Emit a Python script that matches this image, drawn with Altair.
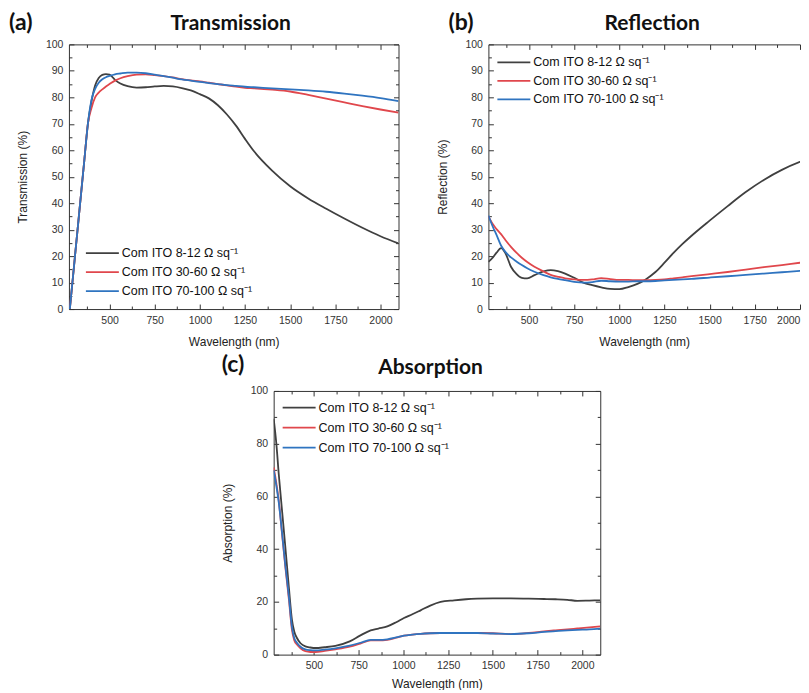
import altair as alt
import pandas as pd

SERIES = ["Com ITO 8-12 Ω sq⁻¹", "Com ITO 30-60 Ω sq⁻¹", "Com ITO 70-100 Ω sq⁻¹"]
COLORS = ["#404040", "#e0474c", "#2f74c0"]

X_DOMAIN = [275, 2100]
X_DOMAIN_B = [275, 2000.5]   # panel (b) is cut at the right edge of the picture
X_MAJOR = [500, 750, 1000, 1250, 1500, 1750, 2000]
X_MINOR = [375, 625, 875, 1125, 1375, 1625, 1875]
Y10_MAJOR = [0, 10, 20, 30, 40, 50, 60, 70, 80, 90, 100]
Y10_MINOR = [5, 15, 25, 35, 45, 55, 65, 75, 85, 95]
Y20_MAJOR = [0, 20, 40, 60, 80, 100]
Y20_MINOR = [10, 30, 50, 70, 90]

# (a) Transmission
T_NM = [280, 300, 330, 360, 380, 400, 420, 440, 460, 480,
        500, 530, 560, 600, 650, 700, 750, 800, 850, 900,
        950, 1000, 1050, 1100, 1150, 1200, 1250, 1300, 1400, 1500,
        1600, 1700, 1800, 1900, 2000, 2100]
T_BLACK = [0, 14, 35, 56, 70, 78.5, 84.5, 87.3, 88.5, 88.8,
           88.6, 86.6, 85.2, 84.2, 83.7, 83.8, 84.1, 84.3, 84.1, 83.5,
           82.6, 81.2, 79.6, 77.0, 73.5, 69.3, 64.3, 59.6, 52.3, 46.4,
           41.8, 37.9, 34.2, 30.7, 27.5, 24.8]
T_RED = [0, 14, 35, 56, 70, 76, 80, 81.8, 83, 84.1,
         85, 86.3, 87.2, 88, 88.6, 88.7, 88.4, 88, 87.5, 86.9,
         86.4, 86, 85.5, 85, 84.5, 84, 83.6, 83.4, 82.9, 82.2,
         80.9, 79.5, 78.1, 76.7, 75.4, 74.2]
T_BLUE = [0, 14, 35, 56, 70, 79, 83.2, 85.5, 86.8, 87.6,
          88.1, 88.7, 89, 89.3, 89.3, 89.1, 88.6, 88, 87.4, 86.8,
          86.3, 85.8, 85.4, 85, 84.6, 84.3, 84, 83.8, 83.4, 83,
          82.6, 82.1, 81.4, 80.6, 79.7, 78.6]

# (b) Reflection
R_NM = [275, 300, 320, 345, 370, 400, 430, 460, 490, 530,
        580, 620, 660, 700, 750, 800, 850, 900, 950, 1000,
        1050, 1100, 1150, 1200, 1250, 1300, 1350, 1400, 1500, 1600,
        1700, 1800, 1900, 2000, 2100]
R_BLACK = [17.8, 19.5, 21.3, 23, 21, 16, 13.3, 11.8, 11.6, 12.8,
           14.2, 14.7, 14.3, 13.4, 11.8, 10, 9, 8.2, 7.6, 7.5,
           8.3, 9.5, 11.4, 14, 17.5, 21.2, 24.6, 27.7, 33.4, 38.9,
           44.2, 48.8, 52.6, 55.6, 58]
R_RED = [35, 32, 30.2, 28.3, 26, 23.5, 21.3, 19.4, 17.8, 16,
         14.2, 12.9, 12.2, 11.6, 11.2, 11, 11.2, 11.7, 11.3, 11,
         11, 10.9, 10.9, 11, 11.2, 11.6, 12, 12.4, 13.2, 14,
         14.9, 15.8, 16.6, 17.5, 18.3]
R_BLUE = [35.3, 31, 28, 24, 21.5, 19.5, 18, 16.6, 15.4, 14.1,
          12.8, 12, 11.4, 10.9, 10.3, 10, 10.2, 10.7, 10.5, 10.4,
          10.4, 10.5, 10.5, 10.6, 10.8, 11, 11.2, 11.4, 11.9, 12.4,
          12.9, 13.4, 13.9, 14.4, 15]

# (c) Absorption
A_NM = [275, 290, 303, 320, 340, 360, 377, 390, 405, 425,
        452, 480, 508, 560, 620, 700, 760, 817, 860, 910,
        960, 1003, 1050, 1096, 1150, 1208, 1283, 1350, 1413, 1500,
        1600, 1700, 1786, 1850, 1916, 1972, 2040, 2100]
A_BLACK = [89.5, 80, 68.8, 56, 41, 25.5, 13.3, 8.8, 6.3, 4.3,
           3.1, 2.7, 2.5, 2.8, 3.3, 5, 7.3, 9.2, 9.9, 10.7,
           12.3, 13.9, 15.3, 16.8, 18.6, 20, 20.6, 21, 21.2, 21.3,
           21.3, 21.2, 21.1, 21, 20.8, 20.4, 20.5, 20.6]
A_RED = [71, 65, 58.7, 47, 33.4, 21, 9.5, 5.5, 3.8, 2.4,
         1.3, 1, 1, 1.4, 2, 3, 4.2, 5.4, 5.4, 5.6,
         6.4, 7.2, 7.6, 7.9, 8.1, 8.2, 8.2, 8.2, 8.2, 8.1,
         7.8, 8.2, 8.8, 9.2, 9.6, 9.9, 10.3, 10.7]
A_BLUE = [70, 64, 58, 47.5, 34, 22, 10.5, 6.3, 4.5, 3,
          2, 1.7, 1.6, 1.9, 2.4, 3.4, 4.5, 5.6, 5.6, 5.8,
          6.5, 7.2, 7.6, 7.9, 8.1, 8.2, 8.2, 8.2, 8.2, 8,
          7.8, 8.1, 8.6, 8.9, 9.2, 9.4, 9.6, 9.9]

FONT = "Liberation Sans"
HEAD_FONT = "Lato"
FRAME = "#333"


def long_df(nm, series_vals):
    rows = []
    for s, vals in zip(SERIES, series_vals):
        for x, v in zip(nm, vals):
            rows.append({"nm": x, "val": v, "series": s})
    return pd.DataFrame(rows)


def panel(df, ytitle, title, tag, y_major, y_minor, leg_x, leg_y, row_pad,
          width, height, tag_x, tag_y, title_x, title_y, x_domain=X_DOMAIN, cut=False,
          x_title_pad=11):
    xs = alt.Scale(domain=x_domain, nice=False, zero=False)
    ys = alt.Scale(domain=[0, 100], nice=False, zero=False)
    x_axis = dict(orient="bottom", values=X_MAJOR, tickSize=5, offset=-5, labelPadding=6,
                  format="d", title="Wavelength (nm)", titlePadding=x_title_pad)
    if cut:
        x_axis["labelFlush"] = 15
    lines = alt.Chart(df).mark_line(strokeWidth=1.8, interpolate="monotone", clip=True).encode(
        x=alt.X("nm:Q", scale=xs, axis=alt.Axis(**x_axis)),
        y=alt.Y("val:Q", scale=ys, axis=alt.Axis(
            orient="left", values=y_major, tickSize=5, offset=-5, labelPadding=6,
            title=ytitle, titlePadding=15.5)),
        color=alt.Color("series:N", scale=alt.Scale(domain=SERIES, range=COLORS),
                        legend=alt.Legend(
                            orient="none", legendX=leg_x, legendY=leg_y, title=None,
                            symbolType="M-3,0H3", symbolSize=121, symbolStrokeWidth=1.8,
                            labelOffset=13, labelFont=FONT, labelFontSize=12.5,
                            labelColor="#111", rowPadding=row_pad, padding=0,
                            labelLimit=300)),
    )
    anchor = pd.DataFrame({"nm": [x_domain[0]], "val": [0]})

    def ticks(xo, yo, xv, yv, size):
        return alt.Chart(anchor).mark_point(opacity=0, size=0).encode(
            x=alt.X("nm:Q", scale=xs, axis=alt.Axis(
                orient=xo, values=xv, tickSize=size, offset=-size, labels=False, title=None)),
            y=alt.Y("val:Q", scale=ys, axis=alt.Axis(
                orient=yo, values=yv, tickSize=size, offset=-size, labels=False, title=None)),
        )

    right_major = [] if cut else y_major
    right_minor = [] if cut else y_minor
    layers = [lines,
              ticks("bottom", "left", X_MINOR, y_minor, 3),
              ticks("top", "right", X_MAJOR, right_major, 5),
              ticks("top", "right", X_MINOR, right_minor, 3)]

    if cut:
        # frame drawn by axis domain lines on three sides only (right side is off the picture)
        def frame(xo, yo, ydom):
            return alt.Chart(anchor).mark_point(opacity=0, size=0).encode(
                x=alt.X("nm:Q", scale=xs, axis=alt.Axis(
                    orient=xo, domain=True, domainColor=FRAME, domainWidth=1,
                    ticks=False, labels=False, title=None)),
                y=alt.Y("val:Q", scale=ys, axis=alt.Axis(
                    orient=yo, domain=ydom, domainColor=FRAME, domainWidth=1,
                    ticks=False, labels=False, title=None)),
            )
        layers += [frame("bottom", "left", True), frame("top", "right", False)]

    tag_text = alt.Chart(pd.DataFrame({"t": [tag]})).mark_text(
        font=HEAD_FONT, fontWeight="bold", fontSize=23, align="left",
        baseline="alphabetic", color="#111").encode(
        text="t:N", x=alt.value(tag_x), y=alt.value(tag_y))
    title_text = alt.Chart(pd.DataFrame({"t": [title]})).mark_text(
        font=HEAD_FONT, fontWeight="bold", fontSize=21, align="center",
        baseline="alphabetic", color="#111").encode(
        text="t:N", x=alt.value(title_x), y=alt.value(title_y))
    layers += [tag_text, title_text]

    props = dict(width=width, height=height)
    if cut:
        props["view"] = alt.ViewBackground(stroke="transparent")
    return alt.layer(*layers).resolve_axis(
        x="independent", y="independent").properties(**props)


pa = panel(long_df(T_NM, [T_BLACK, T_RED, T_BLUE]), "Transmission (%)", "Transmission", "(a)",
           Y10_MAJOR, Y10_MINOR, 27, 202.5, 6, 330, 265, -60, -14, 162, -14)
pb = panel(long_df(R_NM, [R_BLACK, R_RED, R_BLUE]), "Reflection (%)", "Reflection", "(b)",
           Y10_MAJOR, Y10_MINOR, 19, 11.5, 5.5, 312, 265, -40, -14, 164, -14,
           x_domain=X_DOMAIN_B, cut=True)
pc = panel(long_df(A_NM, [A_BLACK, A_RED, A_BLUE]), "Absorption (%)", "Absorption", "(c)",
           Y20_MAJOR, Y20_MINOR, 19, 10.2, 7, 327, 264, -52, -19, 157, -17, x_title_pad=7)

spacer = alt.Chart(pd.DataFrame({"v": [0]})).mark_point(opacity=0, size=0).encode(
    x=alt.value(0), y=alt.value(0)).properties(
    width=195, height=264, view=alt.ViewBackground(stroke="transparent"))

row1 = alt.hconcat(pa, pb, spacing=90, bounds="flush").resolve_scale(color="independent")
row2 = alt.hconcat(spacer, pc, spacing=10, bounds="flush").resolve_scale(color="independent")

chart = alt.vconcat(row1, row2, spacing=5, bounds="full").resolve_scale(
    color="independent").properties(
    padding={"left": 0, "top": 3, "right": 0, "bottom": 0}, background="white").configure_view(
    stroke=FRAME, strokeWidth=1).configure_axis(
    labelFont=FONT, titleFont=FONT, labelFontSize=10.5, titleFontSize=12,
    labelColor="#333", titleColor="#222", tickColor="#333", tickWidth=1,
    grid=False, domain=False, titleFontWeight="normal")

chart.save("out.html", embed_options={"renderer": "svg", "actions": False})
